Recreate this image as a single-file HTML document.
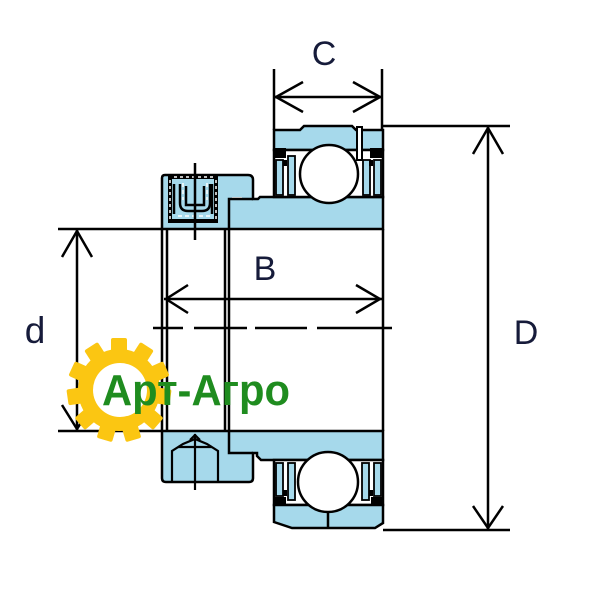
<!DOCTYPE html>
<html><head><meta charset="utf-8"><style>
html,body{margin:0;padding:0;background:#fff;}
svg{display:block}
</style></head><body>
<svg width="600" height="600" viewBox="0 0 600 600" xmlns="http://www.w3.org/2000/svg">
<rect width="600" height="600" fill="#fff"/>

<!-- ===== TOP HALF ===== -->
<!-- collar + inner ring top -->
<path d="M162,178 Q162,175 165,175 L248,175 Q253,175 253,180 L253,199 L258,199 L260,197 L383,197 L383,229 L162,229 Z" fill="#a6d9eb" stroke="#000" stroke-width="2.5"/>
<rect x="232" y="197" width="10" height="3" fill="#fff"/>
<polyline points="229,229 229,199 253,199" fill="none" stroke="#000" stroke-width="2.5"/>

<!-- outer ring top -->
<path d="M274,130 L300,130 L304,126 L352,126 L356,130 L383,130 L383,150 L274,150 Z" fill="#a6d9eb" stroke="#000" stroke-width="2.5"/>
<rect x="274" y="150" width="109" height="47" fill="#fff" stroke="#000" stroke-width="2.5"/>
<!-- split double line -->
<rect x="357" y="127" width="5" height="33" fill="#fff" stroke="#000" stroke-width="2"/>
<!-- top seals -->
<rect x="274" y="148" width="12" height="10" fill="#000"/>
<rect x="276" y="160" width="7" height="35" fill="#a6d9eb" stroke="#000" stroke-width="1.8"/>
<rect x="288" y="156" width="7" height="39" fill="#a6d9eb" stroke="#000" stroke-width="1.8"/>
<rect x="283" y="160" width="4" height="6" fill="#000"/>
<rect x="370" y="148" width="13" height="10" fill="#000"/>
<rect x="374" y="160" width="7" height="35" fill="#a6d9eb" stroke="#000" stroke-width="1.8"/>
<rect x="363" y="160" width="7" height="35" fill="#a6d9eb" stroke="#000" stroke-width="1.8"/>
<rect x="369" y="160" width="4" height="6" fill="#000"/>
<!-- top ball -->
<circle cx="329" cy="174" r="29" fill="#fff" stroke="#000" stroke-width="2.5"/>

<!-- top set screw -->
<rect x="170" y="177" width="46" height="44" fill="#a6d9eb" stroke="#000" stroke-width="4"/>
<line x1="170" y1="180" x2="170" y2="220" stroke="#fff" stroke-width="1.5" stroke-dasharray="3 3"/>
<line x1="216" y1="180" x2="216" y2="220" stroke="#fff" stroke-width="1.5" stroke-dasharray="3 3"/>
<line x1="174" y1="177" x2="214" y2="177" stroke="#fff" stroke-width="1.5" stroke-dasharray="3 3"/>
<g stroke="#000" stroke-width="2.5" fill="none">
<path d="M180,184 L180,203 Q180,211 188,211 L202,211 Q210,211 210,203 L210,184"/>
<path d="M186,186 L186,205 L204,205 L204,186"/>
<line x1="174" y1="184" x2="174" y2="214"/>
<line x1="212" y1="184" x2="212" y2="214"/>
</g>
<g stroke="#fff" stroke-width="1.5" stroke-dasharray="4 3">
<line x1="183" y1="183" x2="183" y2="200"/>
<line x1="207" y1="183" x2="207" y2="200"/>
<line x1="178" y1="216" x2="212" y2="216"/>
</g>
<line x1="195" y1="163" x2="195" y2="240" stroke="#000" stroke-width="2.5"/>

<!-- ===== BOTTOM HALF ===== -->
<path d="M162,431 L383,431 L383,460 L261,460 L257,456 L257,453 L253,453 L253,478 Q253,482 249,482 L166,482 Q162,482 162,478 Z" fill="#a6d9eb" stroke="#000" stroke-width="2.5"/>
<polyline points="229,431 229,453 253,453" fill="none" stroke="#000" stroke-width="2.5"/>

<!-- bottom screw -->
<g stroke="#000" stroke-width="2.2" fill="none">
<polyline points="172,481 172,451 183,444 195,439 207,444 218,451 218,481"/>
<polyline points="178,447 212,447"/>
<polyline points="190,440 195,435 200,440"/>
</g>
<line x1="195" y1="434" x2="195" y2="490" stroke="#000" stroke-width="2.2"/>

<!-- seal region bottom -->
<rect x="274" y="460" width="109" height="45" fill="#fff" stroke="#000" stroke-width="2.5"/>
<rect x="274" y="497" width="12" height="9" fill="#000"/>
<rect x="276" y="463" width="7" height="33" fill="#a6d9eb" stroke="#000" stroke-width="1.8"/>
<rect x="288" y="463" width="7" height="37" fill="#a6d9eb" stroke="#000" stroke-width="1.8"/>
<rect x="283" y="490" width="4" height="6" fill="#000"/>
<rect x="371" y="497" width="12" height="9" fill="#000"/>
<rect x="374" y="463" width="7" height="33" fill="#a6d9eb" stroke="#000" stroke-width="1.8"/>
<rect x="362" y="463" width="7" height="37" fill="#a6d9eb" stroke="#000" stroke-width="1.8"/>
<rect x="369" y="490" width="4" height="6" fill="#000"/>

<!-- outer ring bottom -->
<path d="M274,505 L383,505 L383,523 L375,528 L292,528 L274,522 Z" fill="#a6d9eb" stroke="#000" stroke-width="2.5"/>
<line x1="328" y1="509" x2="328" y2="528" stroke="#000" stroke-width="2.5"/>
<!-- bottom ball -->
<circle cx="328" cy="482" r="30" fill="#fff" stroke="#000" stroke-width="2.5"/>

<!-- ===== DIMENSION LINES ===== -->
<g stroke="#000" stroke-width="2.5" fill="none">
<!-- bore verticals -->
<line x1="162" y1="229" x2="162" y2="431"/>
<line x1="167" y1="229" x2="167" y2="431"/>
<line x1="225" y1="229" x2="225" y2="431"/>
<line x1="229" y1="229" x2="229" y2="431"/>
<line x1="383" y1="229" x2="383" y2="431"/>
<!-- C -->
<line x1="274" y1="69" x2="274" y2="130"/>
<line x1="382" y1="69" x2="382" y2="130"/>
<line x1="274" y1="97" x2="382" y2="97"/>
<polyline points="303,82 276,97 303,112"/>
<polyline points="353,82 380,97 353,112"/>
<!-- D -->
<line x1="383" y1="126" x2="510" y2="126"/>
<line x1="383" y1="530" x2="510" y2="530"/>
<line x1="488" y1="126" x2="488" y2="530"/>
<polyline points="473,154 488,128 503,154"/>
<polyline points="473,506 488,528 503,506"/>
<!-- d -->
<line x1="58" y1="229" x2="162" y2="229"/>
<line x1="58" y1="431" x2="162" y2="431"/>
<line x1="77" y1="229" x2="77" y2="431"/>
<polyline points="62,257 77,231 92,257"/>
<polyline points="62,405 77,429 92,405"/>
<!-- B -->
<line x1="164" y1="299" x2="382" y2="299"/>
<polyline points="188,285 166,299 188,313"/>
<polyline points="356,285 380,299 356,313"/>
<!-- centre line -->
<line x1="153" y1="328" x2="183" y2="328"/>
<line x1="194" y1="328" x2="247" y2="328"/>
<line x1="255" y1="328" x2="307" y2="328"/>
<line x1="317" y1="328" x2="392" y2="328"/>
</g>

<!-- labels -->
<g font-family="Liberation Sans, Arial, sans-serif" fill="#161b3a" text-anchor="middle">
<text x="324" y="65" font-size="34">C</text>
<text x="265" y="280" font-size="34">B</text>
<text x="526" y="344" font-size="34">D</text>
<text x="35" y="343" font-size="37">d</text>
</g>

<!-- ===== LOGO ===== -->
<g fill="#fbc612">
<circle cx="119" cy="390" r="41"/>
<rect x="111" y="338" width="16" height="16" rx="2"/>
<rect x="111" y="338" width="16" height="16" rx="2" transform="rotate(32.727 119 390)"/>
<rect x="111" y="338" width="16" height="16" rx="2" transform="rotate(65.455 119 390)"/>
<rect x="111" y="338" width="16" height="16" rx="2" transform="rotate(98.182 119 390)"/>
<rect x="111" y="338" width="16" height="16" rx="2" transform="rotate(130.909 119 390)"/>
<rect x="111" y="338" width="16" height="16" rx="2" transform="rotate(163.636 119 390)"/>
<rect x="111" y="338" width="16" height="16" rx="2" transform="rotate(196.364 119 390)"/>
<rect x="111" y="338" width="16" height="16" rx="2" transform="rotate(229.091 119 390)"/>
<rect x="111" y="338" width="16" height="16" rx="2" transform="rotate(261.818 119 390)"/>
<rect x="111" y="338" width="16" height="16" rx="2" transform="rotate(294.545 119 390)"/>
<rect x="111" y="338" width="16" height="16" rx="2" transform="rotate(327.273 119 390)"/>
</g>
<circle cx="120" cy="390" r="27" fill="#fff"/>
<text x="102" y="405" font-family="Liberation Sans, 'Noto Sans CJK SC', sans-serif" font-weight="bold" font-size="44" fill="#1f8c1f" textLength="188" lengthAdjust="spacingAndGlyphs">Арт-Агро</text>
</svg>
</body></html>
